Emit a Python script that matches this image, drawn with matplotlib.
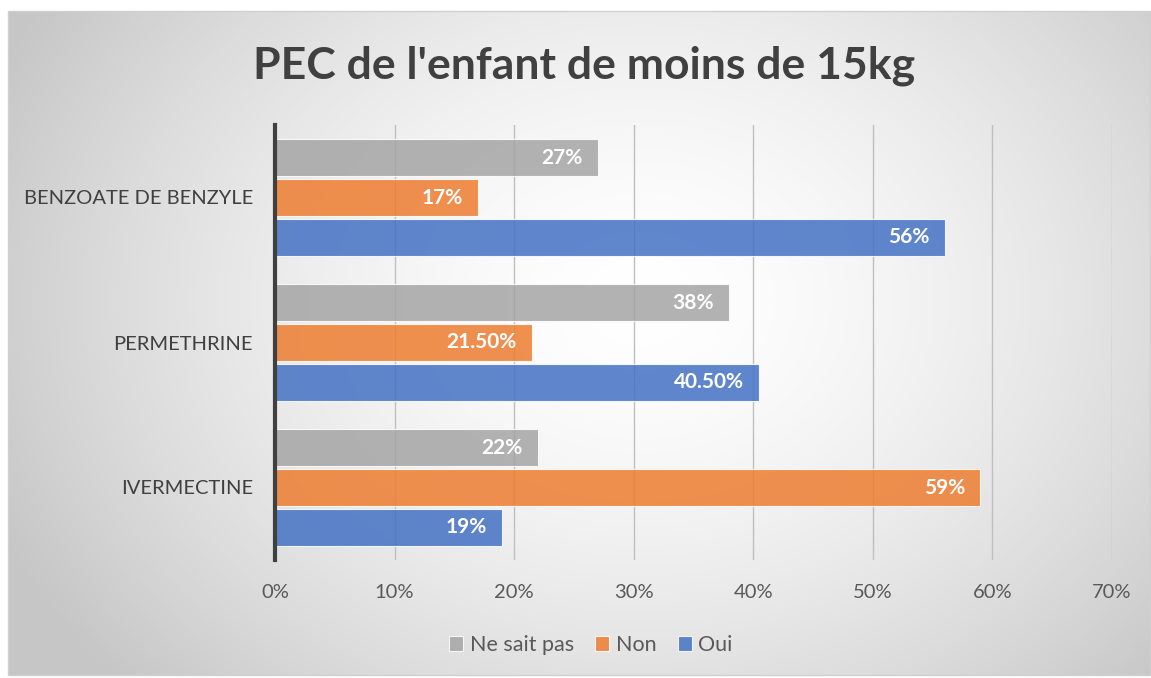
"""PEC de l'enfant de moins de 15kg - grouped horizontal bars."""

import matplotlib
matplotlib.use("Agg")
import matplotlib.pyplot as plt
import numpy as np
from matplotlib.patches import Rectangle

categories = ["IVERMECTINE", "PERMETHRINE", "BENZOATE DE BENZYLE"]
ne_sait_pas = [22, 38, 27]
non = [59, 21.5, 17]
oui = [19, 40.5, 56]
series_names = ["Ne sait pas", "Non", "Oui"]
x_ticks = [0, 10, 20, 30, 40, 50, 60, 70]

colors = ["#A5A5A5", "#ED7D31", "#4472C4"]
text_grey = "#595959"
plt.rcParams["font.family"] = ["Lato", "DejaVu Sans"]


def fmt(v):
    return f"{v:.0f}%" if float(v).is_integer() else f"{v:.2f}%"


def main():
    fig = plt.figure(figsize=(11.51, 6.78), dpi=100)

    # radial gradient panel behind everything
    bg = fig.add_axes([0, 0, 1, 1], zorder=-10)
    bg.set_axis_off()
    w, h = 1151, 678
    yy, xx = np.mgrid[0:h, 0:w]
    r = np.hypot((xx - 640) / 700.0, (yy - 300) / 560.0)
    shade = np.clip(1.0 - 0.22 * r ** 1.6, 0.78, 1.0)
    img = np.dstack([shade, shade, shade])
    img[:11, :] = 1.0
    img[675:, :] = 1.0
    img[:, :8] = 1.0
    img[:, 1150:] = 1.0
    bg.imshow(img, extent=[0, w, h, 0], aspect="auto")
    bg.add_patch(Rectangle((8, 11), 1142, 664, fill=False,
                           edgecolor="#d0d0d0", lw=1.0))
    bg.set_xlim(0, w)
    bg.set_ylim(h, 0)

    ax = fig.add_axes([275 / w, 1 - 560 / h, (1112 - 275) / w, 435 / h])
    ax.patch.set_alpha(0)

    y = np.arange(len(categories))
    bh = 0.26
    step = 0.275
    groups = [ne_sait_pas, non, oui]
    offsets = [step, 0, -step]
    handles = []
    for vals, off, col, name in zip(groups, offsets, colors, series_names):
        bars = ax.barh(y + off, vals, height=bh, color=col, alpha=0.85,
                       edgecolor="white", linewidth=0.8, zorder=3, label=name)
        handles.append(bars)
        for b, v in zip(bars, vals):
            ax.text(b.get_width() - 1.3, b.get_y() + b.get_height() / 2,
                    fmt(v), ha="right", va="center", color="white",
                    fontsize=15, fontweight="bold", zorder=4)

    ax.set_xlim(0, 70)
    ax.set_ylim(-0.5, 2.5)
    ax.set_xticks(x_ticks)
    ax.set_xticklabels([f"{t}%" for t in x_ticks], color=text_grey,
                       fontsize=14.5)
    ax.set_yticks(y)
    ax.set_yticklabels(categories, color="#404040", fontsize=14.5)
    ax.tick_params(axis="both", length=0)
    ax.tick_params(axis="x", pad=17)
    ax.tick_params(axis="y", pad=16)
    ax.grid(True, axis="x", color="#bfbfbf", linewidth=1.0, zorder=1)
    ax.set_axisbelow(True)
    for s in ["top", "right", "bottom"]:
        ax.spines[s].set_visible(False)
    ax.spines["left"].set_color("#404040")
    ax.spines["left"].set_linewidth(3)
    ax.spines["left"].set_zorder(5)

    fig.text(584 / w, 1 - 66 / h, "PEC de l'enfant de moins de 15kg",
             ha="center", va="center", fontsize=32, fontweight="bold",
             color="#404040")

    leg = fig.legend(handles=handles, loc="center", ncol=3,
                     bbox_to_anchor=(591 / w, 1 - 645 / h), frameon=False,
                     fontsize=15.5, handlelength=0.65, handleheight=0.65,
                     handletextpad=0.3, columnspacing=1.0)
    for t in leg.get_texts():
        t.set_color(text_grey)

    fig.savefig("out.png", dpi=100)


if __name__ == "__main__":
    main()
